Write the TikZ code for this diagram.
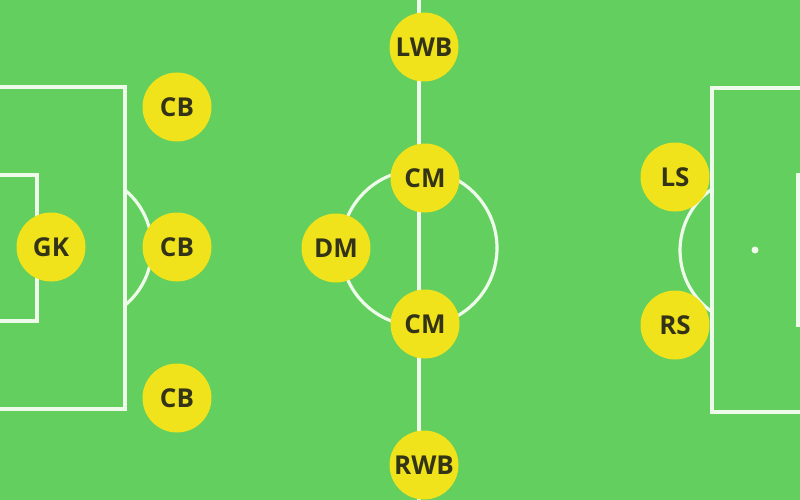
\documentclass[tikz,border=0pt]{standalone}
\usepackage{fontspec}
\setmainfont{Open Sans}
\definecolor{pitch}{HTML}{63CF5E}
\definecolor{chalk}{HTML}{EEFBEA}
\definecolor{player}{HTML}{F0E21B}
\definecolor{ink}{HTML}{333318}
\begin{document}
\begin{tikzpicture}[x=1pt,y=-1pt,
  line/.style={draw=chalk,line width=3.2pt},
  pl/.style={circle,fill=player,minimum size=69pt,inner sep=0pt,text=ink,font=\fontsize{26}{26}\selectfont\bfseries}]
\fill[pitch] (0,0) rectangle (800,500);
\useasboundingbox (0,0) rectangle (800,500);
% left side
\draw[line] (-5,87) -- (125,87) -- (125,409) -- (-5,409);
\draw[line] (-5,175) -- (37,175) -- (37,321) -- (-5,321);
\draw[line] (125,190) arc[start angle=-50.2,end angle=50.2,radius=75] ;
% centre
\draw[line] (419,-5) -- (419,505);
\draw[line] (419,248) circle[radius=78];
% right side
\draw[line] (805,88) -- (712,88) -- (712,412) -- (805,412);
\draw[line] (805,175) -- (798,175) -- (798,325) -- (805,325);
\draw[line] (712,189) arc[start angle=-125,end angle=-235,radius=75];
\fill[chalk] (755,250) circle[radius=3.5];
% players
\node[pl] (gk) at (51,247) {GK};
\node[pl] (cb1) at (177,107) {CB};
\node[pl] (cb2) at (177,247) {CB};
\node[pl] (cb3) at (177,398) {CB};
\node[pl] (lwb) at (424,47) {LWB};
\node[pl] (cm1) at (425,178) {CM};
\node[pl] (dm) at (336,248) {DM};
\node[pl] (cm2) at (425,324) {CM};
\node[pl] (rwb) at (424,465) {RWB};
\node[pl] (ls) at (675,177) {LS};
\node[pl] (rs) at (675,325) {RS};
\end{tikzpicture}
\end{document}
